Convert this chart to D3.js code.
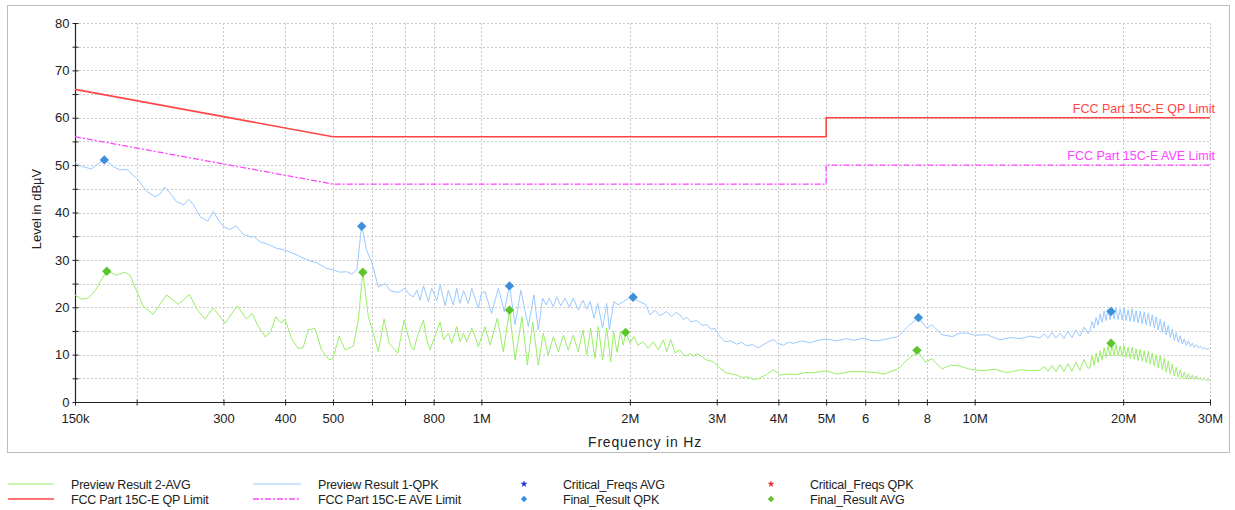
<!DOCTYPE html>
<html>
<head>
<meta charset="utf-8">
<script src="https://cdn.jsdelivr.net/npm/d3@7"></script>
<style>
  body { margin: 0; background: #fff; }
  svg { font-family: "Liberation Sans", Arial, sans-serif; }
</style>
</head>
<body>
<svg></svg>
<script>
// frequencies in MHz, levels in dBuV
const xTickValues = [0.15, 0.2, 0.3, 0.4, 0.5, 0.6, 0.7, 0.8, 1, 2, 3, 4, 5, 6, 7, 8, 10, 20, 30];
const xTickText = ["150k", "", "300", "400", "500", "", "", "800", "1M", "2M", "3M", "4M", "5M", "6", "", "8", "10M", "20M", "30M"];
const yTickValues = [0, 5, 10, 15, 20, 25, 30, 35, 40, 45, 50, 55, 60, 65, 70, 75, 80];

const qpLimit = [[0.15, 66], [0.5, 56], [5, 56], [5, 60], [30, 60]];
const aveLimit = [[0.15, 56], [0.5, 46], [5, 46], [5, 50], [30, 50]];

const qpkTrace = [
  [0.150, 50.5], [0.155, 49.7], [0.162, 49.2], [0.172, 51.3], [0.179, 49.7], [0.185, 49.0], [0.191, 49.1],
  [0.200, 47.2], [0.210, 44.4], [0.218, 43.3], [0.223, 43.9], [0.228, 45.4], [0.234, 44.0], [0.241, 42.3],
  [0.249, 41.6], [0.255, 42.8], [0.261, 41.6], [0.269, 39.1], [0.279, 38.2], [0.286, 40.2], [0.293, 38.4],
  [0.300, 37.0], [0.309, 36.4], [0.318, 37.2], [0.329, 35.4], [0.342, 34.8], [0.345, 35.0], [0.356, 33.8],
  [0.367, 33.4], [0.385, 32.4], [0.396, 32.2], [0.415, 31.4], [0.429, 30.7], [0.449, 29.8], [0.463, 29.4],
  [0.486, 28.2], [0.500, 27.9], [0.517, 27.4], [0.533, 27.5], [0.546, 27.0], [0.559, 27.9], [0.572, 37.3],
  [0.585, 32.0], [0.599, 29.6], [0.618, 24.3], [0.638, 25.0], [0.653, 23.5], [0.678, 23.1], [0.700, 24.0],
  [0.716, 22.6], [0.728, 22.2], [0.740, 23.6], [0.751, 21.5], [0.763, 24.5], [0.781, 21.2], [0.793, 24.0],
  [0.812, 21.4], [0.825, 24.7], [0.844, 20.3], [0.857, 23.6], [0.877, 20.5], [0.891, 24.0], [0.905, 20.8],
  [0.920, 23.5], [0.941, 20.8], [0.956, 24.0], [0.986, 19.8], [1.000, 22.9], [1.017, 23.3], [1.049, 18.7],
  [1.082, 24.0], [1.113, 19.1], [1.140, 24.7], [1.170, 16.3], [1.202, 23.6], [1.245, 15.9], [1.278, 22.6],
  [1.304, 15.2], [1.331, 21.9], [1.352, 20.5], [1.373, 21.9], [1.399, 20.1], [1.421, 22.2], [1.448, 20.3],
  [1.478, 21.9], [1.508, 20.0], [1.535, 21.9], [1.572, 19.4], [1.606, 21.5], [1.635, 19.6], [1.661, 21.2],
  [1.692, 17.7], [1.721, 20.8], [1.761, 15.6], [1.795, 20.8], [1.817, 15.3], [1.856, 21.2], [1.894, 20.5],
  [1.939, 21.2], [1.985, 21.9], [2.027, 22.4], [2.064, 21.5], [2.113, 21.0], [2.156, 20.5], [2.196, 18.4],
  [2.248, 19.4], [2.301, 18.2], [2.376, 19.1], [2.430, 18.0], [2.480, 18.9], [2.526, 18.4], [2.570, 17.4],
  [2.607, 17.9], [2.660, 16.9], [2.731, 17.2], [2.800, 16.2], [2.862, 16.3], [2.920, 15.4], [2.975, 15.5],
  [3.045, 13.8], [3.117, 12.7], [3.200, 12.9], [3.292, 12.2], [3.370, 12.6], [3.449, 11.9], [3.550, 12.1],
  [3.643, 11.4], [3.720, 12.0], [3.785, 12.5], [3.905, 13.2], [3.990, 12.4], [4.093, 12.0], [4.190, 12.6],
  [4.286, 12.4], [4.460, 12.9], [4.635, 12.5], [4.800, 13.0], [5.010, 13.3], [5.250, 12.9], [5.500, 13.4],
  [5.700, 13.0], [5.970, 13.5], [6.150, 13.0], [6.350, 12.9], [6.700, 13.4], [6.990, 13.8], [7.330, 16.0],
  [7.690, 17.8], [8.000, 15.6], [8.190, 16.3], [8.590, 14.2], [9.020, 13.8], [9.300, 14.5], [9.610, 14.6],
  [10.00, 14.1], [10.60, 14.2], [11.26, 13.1], [11.80, 13.6], [12.35, 13.4], [13.00, 13.9],
  [13.56, 13.5], [13.82, 14.4], [14.08, 13.4], [14.35, 14.7], [14.61, 13.5], [14.89, 14.5], [15.17, 13.4],
  [15.46, 14.9], [15.75, 13.6], [16.05, 15.2], [16.35, 13.9], [16.66, 15.8], [16.98, 14.4],
  [17.14, 15.0], [17.30, 17.0], [17.46, 15.6], [17.63, 17.9], [17.79, 16.2], [17.96, 18.6], [18.13, 16.8],
  [18.30, 19.2], [18.47, 17.2], [18.64, 19.6], [18.82, 17.4], [19.00, 19.8], [19.17, 17.5], [19.35, 20.0],
  [19.54, 17.4], [19.72, 19.6], [19.91, 17.3], [20.09, 19.9], [20.28, 17.2], [20.47, 19.4], [20.67, 17.0],
  [20.86, 19.7], [21.06, 16.9], [21.25, 19.3], [21.45, 16.7], [21.66, 19.2], [21.86, 16.5], [22.07, 19.0],
  [22.28, 16.3], [22.49, 18.8], [22.70, 16.0], [22.91, 18.4], [23.13, 15.6], [23.34, 18.0], [23.56, 15.2],
  [23.78, 17.5], [24.01, 14.7], [24.23, 17.0], [24.46, 14.2], [24.69, 16.2], [24.92, 13.6], [25.16, 15.4],
  [25.39, 13.0], [25.63, 14.6], [25.87, 12.6], [26.12, 14.0], [26.36, 12.2], [26.61, 13.3], [26.86, 11.9],
  [27.11, 12.9], [27.37, 11.7], [27.62, 12.4], [27.88, 11.5], [28.15, 12.1], [28.41, 11.4], [28.68, 11.8],
  [28.95, 11.2], [29.22, 11.5], [29.50, 11.1], [29.77, 11.3], [30.00, 11.0]
];

const avgTrace = [
  [0.150, 22.6], [0.151, 22.4], [0.155, 21.7], [0.160, 22.0], [0.165, 23.6], [0.174, 27.7], [0.182, 26.8],
  [0.1895, 27.4], [0.194, 26.7], [0.206, 20.3], [0.216, 18.5], [0.230, 22.6], [0.243, 20.6], [0.256, 22.7],
  [0.265, 19.6], [0.275, 17.5], [0.286, 19.9], [0.302, 16.6], [0.320, 20.3], [0.334, 17.5], [0.343, 18.7],
  [0.353, 15.9], [0.365, 13.7], [0.374, 14.9], [0.383, 18.0], [0.392, 16.7], [0.400, 17.5], [0.412, 13.4],
  [0.425, 11.3], [0.435, 11.5], [0.446, 15.3], [0.460, 15.5], [0.474, 11.0], [0.491, 8.9], [0.500, 9.2],
  [0.515, 13.9], [0.529, 11.0], [0.550, 11.8], [0.563, 17.3], [0.575, 27.5], [0.590, 18.0], [0.604, 14.5],
  [0.618, 10.6], [0.635, 17.5], [0.650, 12.4], [0.677, 10.3], [0.697, 17.3], [0.720, 11.7], [0.729, 11.0],
  [0.745, 14.5], [0.763, 17.3], [0.775, 13.1], [0.787, 11.0], [0.806, 14.1], [0.825, 16.9], [0.838, 13.1],
  [0.857, 14.5], [0.871, 12.4], [0.891, 15.9], [0.905, 12.7], [0.920, 14.5], [0.934, 12.7], [0.956, 15.6],
  [0.971, 13.8], [0.986, 11.7], [1.017, 15.9], [1.042, 12.0], [1.077, 17.7], [1.108, 10.6], [1.140, 19.4],
  [1.170, 8.9], [1.209, 18.0], [1.239, 7.8], [1.271, 16.9], [1.304, 7.8], [1.335, 14.5], [1.366, 9.9],
  [1.399, 13.8], [1.432, 10.6], [1.466, 14.1], [1.500, 11.0], [1.535, 14.1], [1.572, 10.6], [1.606, 15.2],
  [1.635, 9.9], [1.665, 15.6], [1.699, 9.2], [1.726, 15.9], [1.761, 8.9], [1.795, 15.6], [1.829, 8.5],
  [1.853, 15.0], [1.883, 10.5], [1.914, 14.8], [1.939, 12.0], [1.963, 14.8], [2.000, 12.4], [2.037, 13.8],
  [2.076, 12.0], [2.128, 12.7], [2.179, 11.3], [2.230, 12.7], [2.284, 11.0], [2.338, 13.1], [2.376, 10.6],
  [2.419, 13.2], [2.468, 10.4], [2.526, 11.0], [2.570, 9.9], [2.607, 9.7], [2.650, 10.3], [2.687, 9.6],
  [2.730, 10.2], [2.773, 9.9], [2.820, 9.3], [2.862, 8.9], [2.953, 8.5], [3.045, 7.1], [3.142, 6.1],
  [3.220, 5.9], [3.292, 5.7], [3.370, 5.2], [3.449, 5.3], [3.550, 4.8], [3.643, 4.9], [3.785, 5.8],
  [3.905, 6.8], [4.029, 5.7], [4.200, 5.9], [4.355, 5.8], [4.520, 6.2], [4.708, 6.2], [5.010, 6.6],
  [5.250, 5.9], [5.600, 6.4], [5.970, 6.4], [6.300, 6.2], [6.550, 5.9], [6.990, 7.0], [7.330, 9.1],
  [7.690, 10.6], [7.940, 8.4], [8.190, 9.1], [8.590, 7.0], [8.950, 7.8], [9.300, 7.6], [9.800, 6.9],
  [10.40, 6.6], [11.00, 6.9], [11.62, 6.2], [12.40, 6.8], [13.00, 6.6],
  [13.56, 6.7], [13.82, 7.5], [14.08, 6.5], [14.35, 7.7], [14.61, 6.4], [14.89, 7.9], [15.17, 6.4],
  [15.46, 8.1], [15.75, 6.5], [16.05, 8.4], [16.35, 6.7], [16.66, 9.0], [16.98, 7.1],
  [17.14, 7.3], [17.30, 9.8], [17.46, 7.7], [17.63, 10.3], [17.79, 8.3], [17.96, 10.8], [18.13, 8.9],
  [18.30, 11.4], [18.47, 9.4], [18.64, 11.8], [18.82, 9.7], [19.00, 12.0], [19.17, 9.8], [19.35, 12.1],
  [19.54, 9.7], [19.72, 11.8], [19.91, 9.6], [20.09, 11.9], [20.28, 9.4], [20.47, 11.5], [20.67, 9.2],
  [20.86, 11.6], [21.06, 9.0], [21.25, 11.2], [21.45, 8.8], [21.66, 11.1], [21.86, 8.6], [22.07, 10.8],
  [22.28, 8.3], [22.49, 10.7], [22.70, 8.0], [22.91, 10.3], [23.13, 7.6], [23.34, 10.0], [23.56, 7.2],
  [23.78, 9.7], [24.01, 6.8], [24.23, 9.2], [24.46, 6.3], [24.69, 8.6], [24.92, 5.9], [25.16, 8.0],
  [25.39, 5.5], [25.63, 7.3], [25.87, 5.2], [26.12, 6.8], [26.36, 5.0], [26.61, 6.3], [26.86, 4.9],
  [27.11, 6.0], [27.37, 4.8], [27.62, 5.7], [27.88, 4.8], [28.15, 5.5], [28.41, 4.7], [28.68, 5.2],
  [28.95, 4.6], [29.22, 5.0], [29.50, 4.5], [29.77, 4.7], [30.00, 4.4]
];

const finalQpk = [[0.172, 51.1], [0.572, 37.1], [1.14, 24.5], [2.03, 22.1], [7.69, 17.8], [18.9, 19.1]];
const finalAvg = [[0.174, 27.6], [0.575, 27.4], [1.14, 19.4], [1.96, 14.7], [7.64, 10.9], [18.9, 12.4]];

const legendNames = ["Preview Result 2-AVG", "Preview Result 1-QPK", "Critical_Freqs AVG", "Critical_Freqs QPK",
  "FCC Part 15C-E QP Limit", "FCC Part 15C-E AVE Limit", "Final_Result QPK", "Final_Result AVG"];

const colAvg = "#99ee66", colQpk = "#99c9ff", colQp = "#ff4444", colAve = "#ff44ff";
const colQpkMark = "#3d8fdc", colAvgMark = "#5cc42c";

const svg = d3.select("svg").attr("width", 1235).attr("height", 510);

const x = d3.scaleLog().domain([0.15, 30]).range([75, 1210]);
const y = d3.scaleLinear().domain([0, 80]).range([402, 23]);

// outer frame
svg.append("rect").attr("x", 7.5).attr("y", 5.5).attr("width", 1222).attr("height", 447)
  .attr("fill", "none").attr("stroke", "#bdbdbd");

// grid
svg.append("g").selectAll("line").data(yTickValues.slice(1)).join("line")
  .attr("x1", 75).attr("x2", 1210).attr("y1", d => Math.round(y(d)) + 0.5).attr("y2", d => Math.round(y(d)) + 0.5)
  .attr("stroke", "#c8c8c8").attr("stroke-dasharray", "2,2");
svg.append("g").selectAll("line").data(xTickValues.slice(1)).join("line")
  .attr("x1", d => Math.round(x(d)) + 0.5).attr("x2", d => Math.round(x(d)) + 0.5).attr("y1", 23).attr("y2", 402)
  .attr("stroke", "#c8c8c8").attr("stroke-dasharray", "2,2");

// axes
const xAxis = svg.append("g").attr("transform", "translate(0,402.5)")
  .call(d3.axisBottom(x).tickValues(xTickValues).tickFormat((d, i) => xTickText[i]).tickSize(3).tickPadding(8));
xAxis.selectAll(".tick line").attr("y1", -3).attr("y2", 3).attr("stroke", "#222");
xAxis.select(".domain").attr("stroke", "#222").attr("stroke-width", 1.2).attr("d", "M75,0H1210");
xAxis.selectAll("text").attr("font-size", 13).attr("fill", "#222").attr("font-family", "Liberation Sans, Arial");

const yAxis = svg.append("g").attr("transform", "translate(75.5,0)")
  .call(d3.axisLeft(y).tickValues(yTickValues).tickFormat(d => d % 10 === 0 ? d : "").tickSize(3).tickPadding(3));
yAxis.selectAll(".tick line").attr("x1", -3).attr("x2", 3).attr("stroke", "#222");
yAxis.select(".domain").attr("stroke", "#222").attr("stroke-width", 1.2).attr("d", "M0,23V402");
yAxis.selectAll("text").attr("font-size", 13).attr("fill", "#222").attr("font-family", "Liberation Sans, Arial");

// axis titles
svg.append("text").attr("x", 645).attr("y", 447).attr("text-anchor", "middle")
  .attr("font-size", 14).attr("letter-spacing", 0.8).attr("fill", "#222").text("Frequency in Hz");
svg.append("text").attr("transform", "translate(41,209) rotate(-90)").attr("text-anchor", "middle")
  .attr("font-size", 13).attr("fill", "#222").text("Level in dBµV");

svg.append("clipPath").attr("id", "plot").append("rect").attr("x", 75).attr("y", 23).attr("width", 1135).attr("height", 379);
const plot = svg.append("g").attr("clip-path", "url(#plot)");

const line = d3.line().x(d => x(d[0])).y(d => y(d[1]));

plot.append("path").datum(qpkTrace).attr("d", line).attr("fill", "none").attr("stroke", colQpk).attr("stroke-width", 1);
plot.append("path").datum(avgTrace).attr("d", line).attr("fill", "none").attr("stroke", colAvg).attr("stroke-width", 1);
plot.append("path").datum(qpLimit).attr("d", line).attr("fill", "none").attr("stroke", colQp).attr("stroke-width", 1.6);
plot.append("path").datum(aveLimit).attr("d", line).attr("fill", "none").attr("stroke", colAve)
  .attr("stroke-width", 1.3).attr("stroke-dasharray", "6,2,2,2");

// limit labels
svg.append("text").attr("x", 1215).attr("y", y(60) - 5).attr("text-anchor", "end")
  .attr("font-size", 12.5).attr("fill", colQp).text(legendNames[4]);
svg.append("text").attr("x", 1215).attr("y", y(50) - 5).attr("text-anchor", "end")
  .attr("font-size", 12.5).attr("fill", colAve).text(legendNames[5]);

// final result markers
const diamond = d3.symbol().type(d3.symbolSquare).size(44);
svg.append("g").selectAll("path").data(finalQpk).join("path")
  .attr("d", diamond).attr("transform", d => `translate(${x(d[0])},${y(d[1])}) rotate(45)`).attr("fill", colQpkMark);
svg.append("g").selectAll("path").data(finalAvg).join("path")
  .attr("d", diamond).attr("transform", d => `translate(${x(d[0])},${y(d[1])}) rotate(45)`).attr("fill", colAvgMark);

// legend
const lg = svg.append("g").attr("font-size", 12.5).attr("fill", "#222");
const row1 = 484, row2 = 499;
lg.append("line").attr("x1", 8).attr("x2", 54).attr("y1", row1).attr("y2", row1).attr("stroke", colAvg);
lg.append("line").attr("x1", 8).attr("x2", 54).attr("y1", row2).attr("y2", row2).attr("stroke", colQp).attr("stroke-width", 1.6);
lg.append("line").attr("x1", 253).attr("x2", 301).attr("y1", row1).attr("y2", row1).attr("stroke", colQpk);
lg.append("line").attr("x1", 253).attr("x2", 301).attr("y1", row2).attr("y2", row2).attr("stroke", colAve)
  .attr("stroke-width", 1.3).attr("stroke-dasharray", "6,2,2,2");
const star = d3.symbol().type(d3.symbolStar).size(16);
const smallDiamond = d3.symbol().type(d3.symbolSquare).size(20);
lg.append("path").attr("d", star).attr("transform", `translate(524,${row1})`).attr("fill", "#2233dd");
lg.append("path").attr("d", star).attr("transform", `translate(771,${row1})`).attr("fill", "#ee3333");
lg.append("path").attr("d", smallDiamond).attr("transform", `translate(524,${row2}) rotate(45)`).attr("fill", colQpkMark);
lg.append("path").attr("d", smallDiamond).attr("transform", `translate(771,${row2}) rotate(45)`).attr("fill", colAvgMark);
const legendPos = [[71, row1], [318, row1], [563, row1], [810, row1], [71, row2], [318, row2], [563, row2], [810, row2]];
lg.selectAll("text").data(legendNames).join("text")
  .attr("x", (d, i) => legendPos[i][0]).attr("y", (d, i) => legendPos[i][1] + 4.5)
  .attr("letter-spacing", -0.2).text(d => d);
</script>
</body>
</html>
